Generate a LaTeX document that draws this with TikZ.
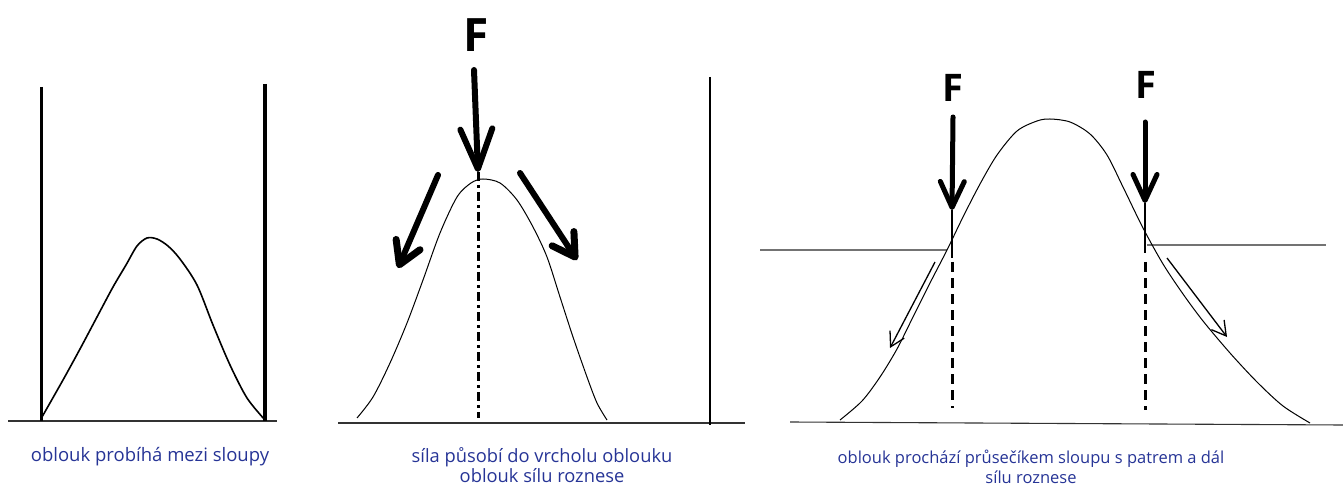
\documentclass[tikz,border=0pt]{standalone}
\usepackage{fontspec}
\setmainfont{Open Sans}
\usetikzlibrary{arrows.meta,positioning}
\definecolor{captionblue}{RGB}{38,52,150}

\begin{document}
\begin{tikzpicture}[
    x=1pt, y=-1pt,
    ground/.style={draw=black!80, line width=1.1pt},
    floor/.style={draw=black!55, line width=1.1pt},
    post/.style={draw=black, line width=3pt},
    arch/.style={draw=black, line width=1pt},
    force/.style={draw=black, line width=6pt, line cap=round, -{Straight Barb[length=40pt, width=32pt, line width=6pt, round]}},
    flow/.style={draw=black, line width=6pt, line cap=round, -{Straight Barb[length=22pt, width=26pt, line width=7pt, round]}},
    slide/.style={draw=black, line width=1.3pt, -{Straight Barb[length=14pt, width=16pt, line width=1.3pt]}},
    axis/.style={draw=black, line width=3pt, dash pattern=on 9pt off 4pt on 3pt off 4pt},
    hidden/.style={draw=black, line width=3pt, dash pattern=on 10pt off 6pt},
    forcelabel/.style={font=\bfseries\fontsize{46}{46}\selectfont, inner sep=0pt},
    caption/.style={text=captionblue, align=center, inner sep=0pt}
]
\useasboundingbox (0,0) rectangle (1343,486);

% Arch between posts
\coordinate (g1l) at (8,421);
\coordinate (g1r) at (277,421);
\draw[ground] (g1l) -- (g1r);
\coordinate (p1top) at (41,87);
\coordinate (p1foot) at (41,421);
\coordinate (p2top) at (265,84);
\coordinate (p2foot) at (265,421);
\draw[post] (p1top) -- (p1foot);
\draw[post, line width=4.5pt] (p2top) -- (p2foot);
\draw[arch, line width=1.6pt] plot[smooth] coordinates {(42,417) (63,380) (80,349) (97,317) (113,287) (126,265) (137,246) (147,238) (157,239) (168,246) (180,259) (197,285) (213,325) (230,365) (247,398) (265,420)};
\node[caption, font=\fontsize{18.5}{19}\selectfont] (cap1) at (150,457) {oblouk probíhá mezi sloupy};

% Force into the crown
\coordinate (g2l) at (338,423);
\coordinate (g2r) at (745,423);
\draw[ground] (g2l) -- (g2r);
\coordinate (p3top) at (710,77);
\coordinate (p3foot) at (710,425);
\draw[post, line width=2.6pt] (p3top) -- (p3foot);
\draw[arch] plot[smooth] coordinates {(357,418) (373,397) (390,363) (407,323) (423,280) (440,233) (457,197) (471,183) (483,179) (500,183) (517,200) (533,227) (547,257) (560,297) (573,337) (587,377) (597,403) (607,420)};
\node[forcelabel] (F1) at (476,35) {F};
\coordinate (F1tail) at (474,70);
\coordinate (crown) at (478,172);
\coordinate (crownfoot) at (478,418);
\draw[force] (F1tail) -- (crown);
\draw[axis] (crown) -- (crownfoot);
\coordinate (lefttail) at (438,175);
\coordinate (lefttip) at (398,268);
\coordinate (righttail) at (520,173);
\coordinate (righttip) at (577,260);
\draw[flow] (lefttail) -- (lefttip);
\draw[flow] (righttail) -- (righttip);
\node[caption, font=\fontsize{18.3}{16}\selectfont] (cap2) at (542,465) {síla působí do vrcholu oblouku\\oblouk sílu roznese};

% Arch through the post/floor intersections
\coordinate (g3l) at (790,422);
\coordinate (g3r) at (1343,425);
\draw[ground] (g3l) -- (g3r);
\coordinate (fl1) at (760,250);
\coordinate (fl1e) at (947,250);
\coordinate (fl2) at (1147,245);
\coordinate (fl2e) at (1326,245);
\draw[floor] (fl1) -- (fl1e);
\draw[floor] (fl2) -- (fl2e);
\draw[arch] plot[smooth] coordinates {(840,420) (862,401) (880,377) (897,349) (913,317) (930,283) (947,250) (963,217) (980,184) (997,155) (1017,131) (1037,121) (1050,119) (1070,122) (1090,134) (1107,155) (1123,187) (1143,228) (1163,264) (1183,294) (1203,321) (1230,353) (1257,382) (1283,406) (1310,423)};
\node[forcelabel, font=\bfseries\fontsize{38}{38}\selectfont] (F2) at (953,88) {F};
\node[forcelabel, font=\bfseries\fontsize{38}{38}\selectfont] (F3) at (1146,85) {F};
\coordinate (F2tail) at (953,117);
\coordinate (F2tip) at (952,210);
\coordinate (F2post) at (952,258);
\coordinate (F2foot) at (952,408);
\coordinate (F3tail) at (1145,122);
\coordinate (F3tip) at (1145,203);
\coordinate (F3post) at (1145,253);
\coordinate (F3foot) at (1145,410);
\draw[force, line width=5pt, -{Straight Barb[length=26pt, width=24pt, line width=5pt, round]}] (F2tail) -- (F2tip);
\draw[force, line width=5pt, -{Straight Barb[length=26pt, width=24pt, line width=5pt, round]}] (F3tail) -- (F3tip);
\draw[post, line width=2pt] (F2tip) -- (F2post);
\draw[post, line width=2pt] (F3tip) -- (F3post);
\draw[hidden] (F2post) ++(0,4) -- (F2foot);
\draw[hidden] (F3post) ++(0,9) -- (F3foot);
\coordinate (s1tail) at (935,262);
\coordinate (s1tip) at (890,348);
\coordinate (s2tail) at (1167,258);
\coordinate (s2tip) at (1227,337);
\draw[slide] (s1tail) -- (s1tip);
\draw[slide] (s2tail) -- (s2tip);
\node[caption, font=\fontsize{16.5}{20}\selectfont] (cap3) at (1031,467) {oblouk prochází průsečíkem sloupu s patrem a dál\\sílu roznese};

\end{tikzpicture}
\end{document}
